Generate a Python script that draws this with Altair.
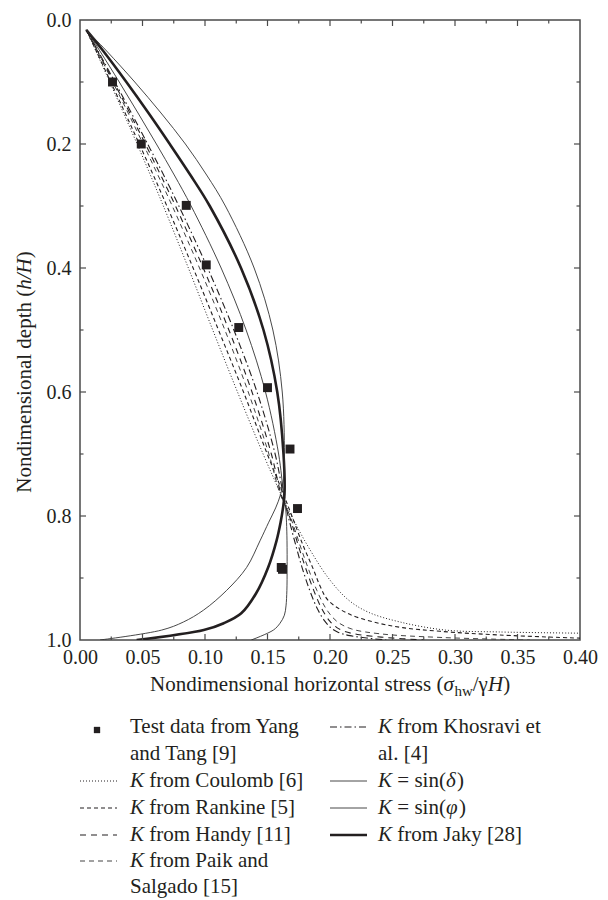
import altair as alt
import pandas as pd

# ---------------- data ----------------
test_x = [0.026, 0.049, 0.085, 0.101, 0.127, 0.150, 0.168, 0.174, 0.161, 0.162]
test_y = [0.100, 0.200, 0.299, 0.395, 0.496, 0.593, 0.692, 0.788, 0.883, 0.886]

upper_y = [0.016, 0.05, 0.1, 0.15, 0.2, 0.25, 0.3, 0.4, 0.5, 0.6, 0.7, 0.765]

coulomb_y = upper_y + [0.8, 0.85, 0.9, 0.935, 0.955, 0.971, 0.984, 0.987, 0.989]
coulomb_x = [0.005, 0.0127, 0.0238, 0.0348, 0.0457, 0.0563, 0.0667, 0.0867, 0.1062, 0.1260, 0.1465, 0.1608,
             0.1692, 0.1827, 0.1987, 0.2145, 0.2305, 0.2561, 0.2925, 0.3345, 0.400]

rankine_y = upper_y + [0.8, 0.85, 0.885, 0.915, 0.936, 0.957, 0.971, 0.98, 0.986, 0.992, 0.997]
rankine_x = [0.005, 0.0130, 0.0246, 0.0361, 0.0474, 0.0586, 0.0695, 0.0905, 0.1108, 0.1308, 0.1498, 0.1628,
             0.1695, 0.1790, 0.1865, 0.1925, 0.1985, 0.2140, 0.2350, 0.2580, 0.2880, 0.3360, 0.400]

paik_y = upper_y + [0.8, 0.85, 0.884, 0.92, 0.95, 0.97, 0.982, 0.99, 0.996, 1.0]
paik_x = [0.005, 0.0137, 0.0262, 0.0385, 0.0505, 0.0623, 0.0738, 0.0956, 0.1159, 0.1346, 0.1511, 0.1602,
          0.168, 0.1765, 0.1825, 0.1895, 0.197, 0.2055, 0.217, 0.240, 0.290, 0.360]

handy_y = upper_y + [0.8, 0.85, 0.884, 0.92, 0.95, 0.97, 0.98, 0.986, 0.991, 0.996, 1.0]
handy_x = [0.005, 0.0140, 0.0270, 0.0398, 0.0523, 0.0645, 0.0764, 0.0986, 0.1191, 0.1376, 0.1531, 0.1609,
           0.1675, 0.175, 0.1805, 0.187, 0.1935, 0.200, 0.2055, 0.2115, 0.222, 0.245, 0.275]

khosravi_y = upper_y + [0.8, 0.85, 0.884, 0.92, 0.95, 0.97, 0.98, 0.987, 0.993, 1.0]
khosravi_x = [0.005, 0.0144, 0.0279, 0.0411, 0.0541, 0.0669, 0.0791, 0.1021, 0.1231, 0.1416, 0.1561, 0.1626,
              0.1665, 0.173, 0.1778, 0.1838, 0.190, 0.196, 0.2005, 0.206, 0.216, 0.245]

sind_y = upper_y + [0.787, 0.81, 0.84, 0.884, 0.92, 0.945, 0.96, 0.973, 0.984, 1.0]
sind_x = [0.005, 0.0159, 0.0314, 0.0464, 0.0611, 0.0754, 0.0889, 0.1129, 0.1329, 0.1484, 0.1589, 0.1629,
          0.1645, 0.1652, 0.1656, 0.1657, 0.1655, 0.1648, 0.1635, 0.160, 0.1547, 0.137]

jaky_y = upper_y + [0.787, 0.81, 0.84, 0.883, 0.925, 0.957, 0.973, 0.984, 1.0]
jaky_x = [0.005, 0.0186, 0.0371, 0.0548, 0.0718, 0.0883, 0.1038, 0.1288, 0.1468, 0.1578, 0.1628, 0.1636,
          0.1624, 0.1605, 0.1572, 0.1505, 0.1408, 0.1290, 0.1150, 0.0990, 0.0453]

sinp_y = [0.016, 0.05, 0.1, 0.15, 0.2, 0.25, 0.3, 0.4, 0.5, 0.6, 0.7, 0.74, 0.765,
          0.787, 0.81, 0.84, 0.883, 0.92, 0.952, 0.971, 0.984, 1.0]
sinp_x = [0.005, 0.0213, 0.0438, 0.0648, 0.0843, 0.1013, 0.1163, 0.1393, 0.1543, 0.1618, 0.1635, 0.1628, 0.1605,
          0.1565, 0.151, 0.144, 0.1333, 0.1173, 0.0987, 0.0827, 0.0653, 0.016]

x_label_values = [0.00, 0.05, 0.10, 0.15, 0.20, 0.25, 0.30, 0.35, 0.40]
y_label_values = [0.0, 0.2, 0.4, 0.6, 0.8, 1.0]
x_major_ticks = [0.05, 0.10, 0.15, 0.20, 0.25, 0.30, 0.35]
x_minor_ticks = [0.025, 0.075, 0.125, 0.175, 0.225, 0.275, 0.325, 0.375]
y_major_ticks = [0.2, 0.4, 0.6, 0.8]
y_minor_ticks = [0.1, 0.3, 0.5, 0.7, 0.9]

# ---------------- styling ----------------
OX, OY = 80, 20  # page position of plot origin
W, H = 500, 620
SERIF = "Liberation Serif"
INK = "#231f20"
FRAME = "#4a4a4a"
xs = alt.Scale(domain=[0, 0.4], nice=False, zero=False)
ys = alt.Scale(domain=[0, 1], nice=False, reverse=True)
dummy = pd.DataFrame({"d": [0]})

xaxis = alt.Axis(values=x_label_values, format=".2f", labelFont=SERIF, labelFontSize=20,
                 labelColor=INK, ticks=False, tickSize=0, domain=False, grid=False,
                 labelPadding=7, labelFlush=False, labelOverlap=False, title=None)
yaxis = alt.Axis(values=y_label_values, format=".1f", labelFont=SERIF, labelFontSize=20,
                 labelColor=INK, ticks=False, tickSize=0, domain=False, grid=False,
                 labelPadding=9, labelOverlap=False, title=None)


def curve(xv, yv, dash=None, width=1.0, color=INK):
    df = pd.DataFrame({"x": xv, "y": yv, "i": list(range(len(xv)))})
    kw = dict(interpolate="catmull-rom", clip=True, strokeWidth=width, color=color)
    if dash:
        kw["strokeDash"] = dash
    return alt.Chart(df).mark_line(**kw).encode(
        x=alt.X("x:Q", scale=xs, axis=xaxis),
        y=alt.Y("y:Q", scale=ys, axis=yaxis),
        order="i:Q",
    )


def xticks(vals, length, top):
    df = pd.DataFrame({"x": vals})
    y0, y1 = (0, length) if top else (H, H - length)
    return alt.Chart(df).mark_rule(color=FRAME, strokeWidth=1.2).encode(
        x=alt.X("x:Q", scale=xs, axis=xaxis), y=alt.value(y0), y2=alt.value(y1))


def yticks(vals, length, right):
    df = pd.DataFrame({"y": vals})
    x0, x1 = (W, W - length) if right else (0, length)
    return alt.Chart(df).mark_rule(color=FRAME, strokeWidth=1.2).encode(
        y=alt.Y("y:Q", scale=ys, axis=yaxis), x=alt.value(x0), x2=alt.value(x1))


def txt(s, x, y, italic=False, size=21, align="left", angle=0, baseline="middle"):
    kw = dict(text=s, font=SERIF, fontSize=size, fontStyle="italic" if italic else "normal",
              align=align, baseline=baseline, color=INK)
    if angle:
        kw["angle"] = angle
    return alt.Chart(dummy).mark_text(**kw).encode(x=alt.value(x), y=alt.value(y))


def lsym(x0, x1, y, dash=None, width=1.0, color=INK):
    kw = dict(strokeWidth=width, color=color)
    if dash:
        kw["strokeDash"] = dash
    return alt.Chart(dummy).mark_rule(**kw).encode(
        x=alt.value(x0), x2=alt.value(x1), y=alt.value(y))


styles = {
    "coulomb": dict(dash=[1, 2], width=1.0),
    "rankine": dict(dash=[4, 3], width=1.1),
    "handy": dict(dash=[6, 5], width=1.1),
    "paik": dict(dash=[5, 4], width=1.0, color="#444"),
    "khosravi": dict(dash=[7, 3, 1.5, 3], width=1.1),
    "sind": dict(width=0.9, color="#333"),
    "sinp": dict(width=0.9, color="#333"),
    "jaky": dict(width=2.6),
}

layers = [
    curve(coulomb_x, coulomb_y, **styles["coulomb"]),
    curve(rankine_x, rankine_y, **styles["rankine"]),
    curve(paik_x, paik_y, **styles["paik"]),
    curve(handy_x, handy_y, **styles["handy"]),
    curve(khosravi_x, khosravi_y, **styles["khosravi"]),
    curve(sind_x, sind_y, **styles["sind"]),
    curve(jaky_x, jaky_y, **styles["jaky"]),
    curve(sinp_x, sinp_y, **styles["sinp"]),
    alt.Chart(pd.DataFrame({"x": test_x, "y": test_y})).mark_square(
        size=80, color=INK, opacity=1).encode(
        x=alt.X("x:Q", scale=xs, axis=xaxis), y=alt.Y("y:Q", scale=ys, axis=yaxis)),
    xticks(x_major_ticks, 6, False), xticks(x_minor_ticks, 3.5, False),
    xticks(x_major_ticks, 6, True), xticks(x_minor_ticks, 3.5, True),
    yticks(y_major_ticks, 6, False), yticks(y_minor_ticks, 3.5, False),
    yticks(y_major_ticks, 6, True), yticks(y_minor_ticks, 3.5, True),
]

# ---------------- axis titles (mixed styles) ----------------
tb = 691 - OY
A = 443.4 - OX
layers += [
    txt("Nondimensional horizontal stress (", A, tb, align="right", baseline="alphabetic"),
    txt("σ", A, tb, italic=True, baseline="alphabetic"),
    txt("hw", A + 11, tb + 5, size=15, baseline="alphabetic"),
    txt("/γ", A + 29.3, tb, baseline="alphabetic"),
    txt("H", A + 44.6, tb, italic=True, baseline="alphabetic"),
    txt(")", A + 59.8, tb, baseline="alphabetic"),
]
yx = 25 - OX
B = 289.75 - OY
layers += [
    txt("Nondimensional depth (", yx, B, align="right", angle=270),
    txt("h/H", yx, B, italic=True, angle=270),
    txt(")", yx, B - 31.5, angle=270),
]

# ---------------- legend ----------------
C1T, C2T = 130 - OX, 378 - OX
C1S, C2S = (80 - OX, 117 - OX), (330 - OX, 367 - OX)
rows = [727 - OY, 754 - OY, 781 - OY, 808 - OY, 835 - OY, 861 - OY, 887 - OY]
KW = 19.3  # italic K plus space

legend_col1 = [
    (None, "Test data from Yang", rows[0]),
    (None, "and Tang [9]", rows[1]),
    ("K", "from Coulomb [6]", rows[2]),
    ("K", "from Rankine [5]", rows[3]),
    ("K", "from Handy [11]", rows[4]),
    ("K", "from Paik and", rows[5]),
    (None, "Salgado [15]", rows[6]),
]
for k, rest, y in legend_col1:
    if k:
        layers.append(txt(k, C1T, y, italic=True))
        layers.append(txt(rest, C1T + KW, y))
    else:
        layers.append(txt(rest, C1T, y))

layers += [
    txt("K", C2T, rows[0], italic=True), txt("from Khosravi et", C2T + KW, rows[0]),
    txt("al. [4]", C2T, rows[1]),
    txt("K", C2T, rows[2], italic=True), txt("= sin(", C2T + KW, rows[2]),
    txt("δ", C2T + KW + 48.6, rows[2], italic=True), txt(")", C2T + KW + 59.6, rows[2]),
    txt("K", C2T, rows[3], italic=True), txt("= sin(", C2T + KW, rows[3]),
    txt("φ", C2T + KW + 48.6, rows[3], italic=True), txt(")", C2T + KW + 61.6, rows[3]),
    txt("K", C2T, rows[4], italic=True), txt("from Jaky [28]", C2T + KW, rows[4]),
]

layers += [
    alt.Chart(dummy).mark_square(size=40, color=INK, opacity=1).encode(
        x=alt.value(97 - OX), y=alt.value(rows[0] + 3)),
    lsym(*C1S, rows[2], **styles["coulomb"]),
    lsym(*C1S, rows[3], **styles["rankine"]),
    lsym(*C1S, rows[4], **styles["handy"]),
    lsym(*C1S, rows[5], **styles["paik"]),
    lsym(*C2S, rows[0], **styles["khosravi"]),
    lsym(*C2S, rows[2], **styles["sind"]),
    lsym(*C2S, rows[3], **styles["sinp"]),
    lsym(*C2S, rows[4], **styles["jaky"]),
]

chart = alt.layer(*layers).properties(
    width=W, height=H,
    autosize=alt.AutoSizeParams(type="none"),
    padding={"left": OX - 8, "top": OY - 8, "right": 20, "bottom": 260},
).configure_view(stroke=FRAME, strokeWidth=1.5)

chart.save("out.html", embed_options={"renderer": "svg", "actions": False})
